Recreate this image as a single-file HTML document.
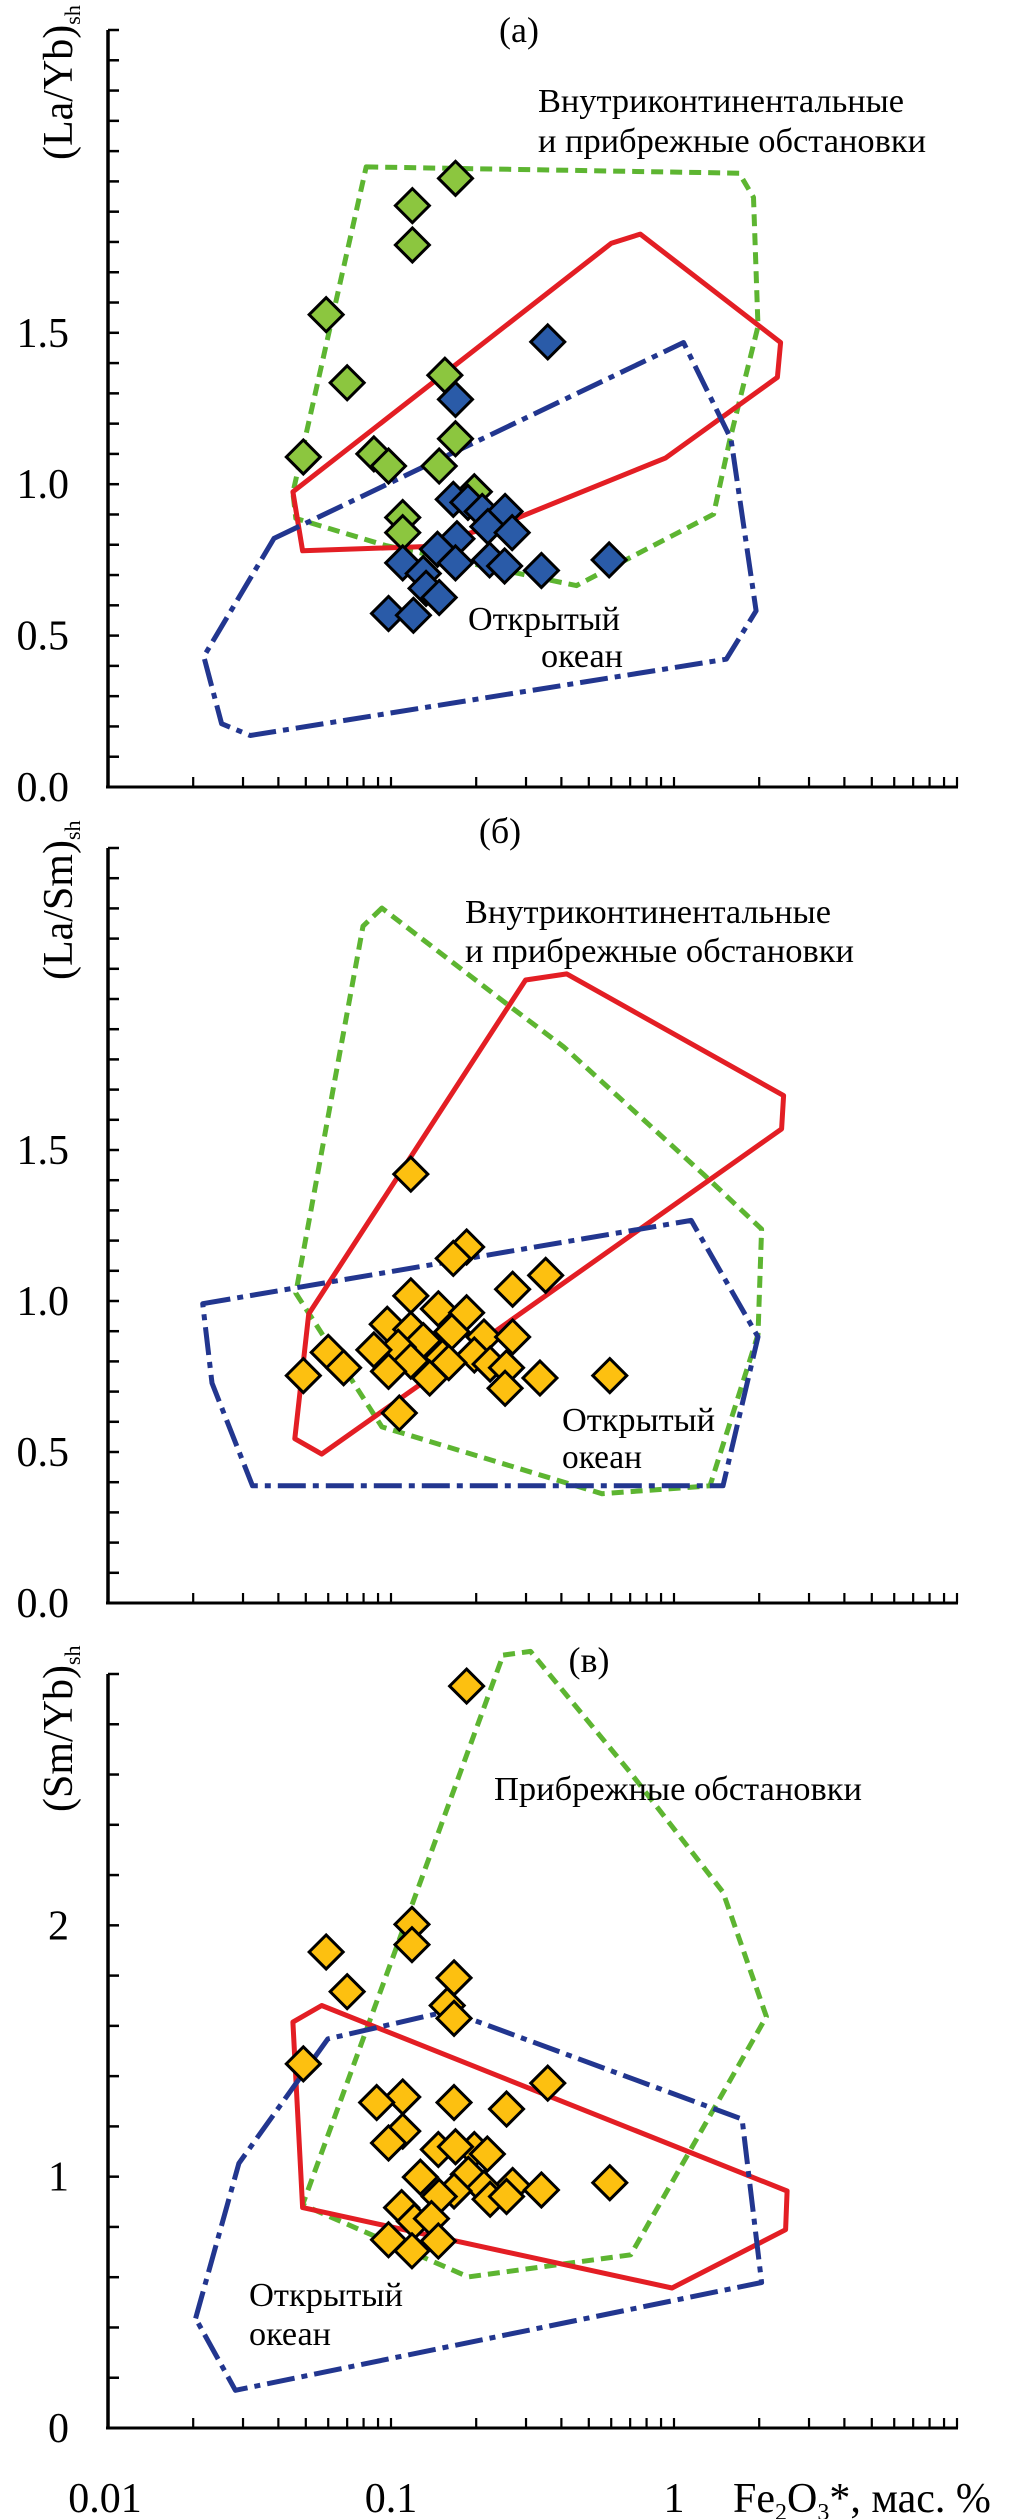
<!DOCTYPE html>
<html><head><meta charset="utf-8"><style>
html,body{margin:0;padding:0;background:#fff;}
svg{display:block;font-family:"Liberation Serif","Times New Roman","DejaVu Serif",serif;}
svg text{font-family:"Liberation Serif","Times New Roman","DejaVu Serif",serif;}
</style></head><body>
<svg id="chart" width="1010" height="2519" viewBox="0 0 1010 2519" xmlns="http://www.w3.org/2000/svg" font-family="Liberation Serif, DejaVu Serif, serif">
<g id="grid"></g>
</svg>
<script>
// ---- data ----
const xTickLabels = ["0.01","0.1","1"];
// Panel (a) La/Yb
const aGreenX=[0.169,0.119,0.119,0.059,0.070,0.155,0.169,0.049,0.087,0.098,0.148,0.197,0.110,0.110];
const aGreenY=[2.01,1.92,1.79,1.56,1.335,1.36,1.15,1.09,1.10,1.06,1.06,0.975,0.89,0.84];
const aBlueX=[0.358,0.169,0.166,0.187,0.21,0.253,0.22,0.268,0.171,0.146,0.11,0.169,0.223,0.252,0.34,0.59,0.13,0.133,0.148,0.098,0.12];
const aBlueY=[1.47,1.28,0.95,0.94,0.91,0.91,0.86,0.84,0.82,0.785,0.74,0.74,0.75,0.73,0.715,0.75,0.705,0.656,0.626,0.573,0.567];
const aPolyGreenX=[0.0817,1.70,1.91,1.98,1.57,1.38,0.452,0.0955,0.0461,0.045];
const aPolyGreenY=[2.048,2.027,1.947,1.521,1.140,0.901,0.665,0.798,0.887,0.972];
const aPolyRedX=[0.045,0.601,0.760,2.38,2.32,0.935,0.256,0.130,0.0487];
const aPolyRedY=[0.975,1.796,1.826,1.468,1.353,1.087,0.874,0.794,0.780];
const aPolyBlueX=[0.0386,1.08,1.59,1.95,1.53,0.0318,0.0252,0.0218];
const aPolyBlueY=[0.821,1.468,1.149,0.582,0.422,0.170,0.209,0.431];
// Panel (b) La/Sm
const bX=[0.1175,0.185,0.166,0.352,0.269,0.1175,0.147,0.185,0.097,0.1175,0.164,0.130,0.213,0.269,0.106,0.087,0.060,0.152,0.197,0.1175,0.160,0.224,0.068,0.098,0.256,0.049,0.137,0.336,0.593,0.253,0.107];
const bY=[1.42,1.179,1.141,1.085,1.039,1.017,0.974,0.961,0.923,0.906,0.898,0.869,0.881,0.881,0.847,0.838,0.830,0.813,0.821,0.801,0.796,0.791,0.779,0.767,0.779,0.753,0.745,0.745,0.753,0.711,0.629];
const bPolyGreenX=[0.0929,0.0796,0.0461,0.0929,0.556,1.34,1.98,2.04,1.28,0.407,0.269];
const bPolyGreenY=[2.301,2.241,1.026,0.583,0.362,0.388,0.889,1.238,1.417,1.842,1.969];
const bPolyRedX=[0.299,0.418,2.44,2.40,0.0569,0.0457,0.0512];
const bPolyRedY=[2.063,2.083,1.680,1.570,0.493,0.544,0.957];
const bPolyBlueX=[0.0216,1.15,1.98,1.49,0.0324,0.0233];
const bPolyBlueY=[0.991,1.267,0.881,0.388,0.388,0.728];
// Panel (c) Sm/Yb
const cX=[0.185,0.1186,0.1186,0.059,0.167,0.070,0.158,0.167,0.049,0.358,0.110,0.089,0.167,0.256,0.110,0.098,0.147,0.197,0.219,0.169,0.127,0.1876,0.269,0.213,0.167,0.340,0.593,0.148,0.224,0.256,0.109,0.121,0.139,0.098,0.147,0.1186];
const cY=[2.952,2.004,1.923,1.894,1.791,1.736,1.681,1.630,1.449,1.372,1.317,1.295,1.295,1.269,1.181,1.134,1.108,1.108,1.090,1.119,0.998,1.009,0.965,0.954,0.943,0.947,0.976,0.921,0.910,0.921,0.877,0.822,0.833,0.749,0.744,0.705];
const cPolyGreenX=[0.249,0.311,0.703,1.49,2.12,0.703,0.1876,0.0487];
const cPolyGreenY=[3.075,3.09,2.606,2.132,1.637,0.689,0.601,0.888];
const cPolyRedX=[0.045,0.0569,2.51,2.48,0.984,0.0487];
const cPolyRedY=[1.615,1.681,0.943,0.789,0.557,0.877];
const cPolyBlueX=[0.0204,0.029,0.0598,0.160,1.74,2.04,0.0282];
const cPolyBlueY=[0.436,1.053,1.548,1.659,1.229,0.579,0.150];
const aYLabels=["0.0","0.5","1.0","1.5"];
const cYLabels=["0","1","2"];

// ---- drawing ----
const NS="http://www.w3.org/2000/svg";
const FONT='"Liberation Serif", "Times New Roman", "DejaVu Serif", serif';
const svg=document.getElementById('chart');
function mk(tag,attrs,parent){const e=document.createElementNS(NS,tag);for(const k in attrs)e.setAttribute(k,attrs[k]);(parent||svg).appendChild(e);return e;}
const X0=108, DEC=283;
function xs(v){return X0+(Math.log10(v)+2)*DEC;}
function makeY(bottom,top,ymax){return v=>bottom-(v/ymax)*(bottom-top);}
const GREEN_LINE="#5DB531", RED="#E31E24", BLUE_LINE="#22368F";

function panel(id,bottom,top,ymax,minor,major,labels){
  const ys=makeY(bottom,top,ymax);
  const g=mk('g',{});
  
  
  const ya=mk('line',{x1:X0,y1:top,x2:X0,y2:bottom,stroke:'#000','stroke-width':3.5},g);
  
  
  const xa=mk('line',{x1:X0-2,y1:bottom,x2:xs(10)+1,y2:bottom,stroke:'#000','stroke-width':3},g);
  
  
  const n=Math.round(ymax/minor);
  for(let i=1;i<=n;i++){
    const t=mk('line',{x1:X0,y1:ys(i*minor),x2:X0+11,y2:ys(i*minor),stroke:'#000','stroke-width':2.5},g);
    
    
  }
  labels.forEach((s,i)=>{
    const t=mk('text',{x:69,y:ys(i*major)+14,'font-size':42,'text-anchor':'end','font-family':FONT},g);
    t.textContent=s;
    
    
  });
  for(let d=0.01;d<10;d*=10){
    for(let m=2;m<=10;m++){
      const xv=xs(d*m);
      const t=mk('line',{x1:xv,y1:bottom,x2:xv,y2:bottom-10,stroke:'#000','stroke-width':2.2},g);
      
      
    }
  }
  return {g,ys};
}
function poly(p,xsArr,ysArr,color,dash,name){
  const pts=xsArr.map((v,i)=>xs(v).toFixed(1)+','+p.ys(ysArr[i]).toFixed(1)).join(' ');
  const e=mk('polygon',{points:pts,fill:'none',stroke:color,'stroke-width':5,'stroke-dasharray':dash,'stroke-linejoin':'round'},p.g);
  
  
}
function pts(p,xArr,yArr,fill,name){
  xArr.forEach((v,i)=>{
    const cx=xs(v), cy=p.ys(yArr[i]), r=17;
    const e=mk('polygon',{points:`${cx},${cy-r} ${cx+r},${cy} ${cx},${cy+r} ${cx-r},${cy}`,fill:fill,stroke:'#000','stroke-width':3,'stroke-linejoin':'miter'},p.g);
    
    
  });
}
function txt(x,y,s,size,len,name,anchor){
  const a={x:x,y:y,'font-size':size,'font-family':FONT};
  if(len){a.textLength=len;a.lengthAdjust='spacingAndGlyphs';}
  if(anchor)a['text-anchor']=anchor;
  const t=mk('text',a);
  t.textContent=s;
  
  
  return t;
}
function ytitle(cy,main,name){
  const t=mk('text',{transform:`translate(72,${cy}) rotate(-90)`,'font-size':42,'font-family':FONT});
  
  
  const a=mk('tspan',{},t);a.textContent=main;
  const b=mk('tspan',{'font-size':22,dy:8},t);b.textContent='sh';
}

// Panel a
const pa=panel('a',787,30,2.5,0.1,0.5,aYLabels);
poly(pa,aPolyGreenX,aPolyGreenY,GREEN_LINE,'12 7','green-field-a');
poly(pa,aPolyRedX,aPolyRedY,RED,'none','red-field-a');
poly(pa,aPolyBlueX,aPolyBlueY,BLUE_LINE,'28 7 6 7','blue-field-a');
pts(pa,aGreenX,aGreenY,'#8CC63F','green-point-a');
pts(pa,aBlueX,aBlueY,'#2A5BA8','blue-point-a');
// Panel b
const pb=panel('b',1603,848,2.5,0.1,0.5,aYLabels);
poly(pb,bPolyGreenX,bPolyGreenY,GREEN_LINE,'12 7','green-field-b');
poly(pb,bPolyRedX,bPolyRedY,RED,'none','red-field-b');
poly(pb,bPolyBlueX,bPolyBlueY,BLUE_LINE,'28 7 6 7','blue-field-b');
pts(pb,bX,bY,'#FDC010','yellow-point-b');
// Panel c
const pc=panel('c',2428,1674,3,0.2,1,cYLabels);
poly(pc,cPolyGreenX,cPolyGreenY,GREEN_LINE,'12 7','green-field-c');
poly(pc,cPolyRedX,cPolyRedY,RED,'none','red-field-c');
poly(pc,cPolyBlueX,cPolyBlueY,BLUE_LINE,'28 7 6 7','blue-field-c');
pts(pc,cX,cY,'#FDC010','yellow-point-c');

// Text
ytitle(160,'(La/Yb)','y-axis-title-a');
ytitle(980,'(La/Sm)','y-axis-title-b');
ytitle(1812,'(Sm/Yb)','y-axis-title-c');
txt(519,42,'(a)',36,null,'panel-label-a','middle');
txt(500,843,'(б)',36,null,'panel-label-b','middle');
txt(589,1672,'(в)',36,null,'panel-label-c','middle');
txt(538,112,'Внутриконтинентальные',34,366,'field-label-continental-a');
txt(538,152,'и прибрежные обстановки',34,388,'field-label-coastal-a');
txt(468,630,'Открытый',34,152,'field-label-ocean-a');
txt(541,667,'океан',34,82,'field-label-ocean2-a');
txt(465,923,'Внутриконтинентальные',34,366,'field-label-continental-b');
txt(465,962,'и прибрежные обстановки',34,389,'field-label-coastal-b');
txt(562,1431,'Открытый',34,153,'field-label-ocean-b');
txt(562,1468,'океан',34,80,'field-label-ocean2-b');
txt(494,1800,'Прибрежные обстановки',34,368,'field-label-coastal-c');
txt(249,2306,'Открытый',34,154,'field-label-ocean-c');
txt(249,2345,'океан',34,82,'field-label-ocean2-c');
[0.01,0.1,1].forEach((v,i)=>{
  txt(xs(v)-(i===0?3:0),2512,xTickLabels[i],42,null,'x-tick-label','middle');
});
const xt=mk('text',{x:733,y:2512,'font-size':42,'font-family':FONT});


const p1=mk('tspan',{},xt);p1.textContent='Fe';
const p2=mk('tspan',{'font-size':24,dy:8},xt);p2.textContent='2';
const p3=mk('tspan',{dy:-8},xt);p3.textContent='O';
const p4=mk('tspan',{'font-size':24,dy:8},xt);p4.textContent='3';
const p5=mk('tspan',{dy:-8},xt);p5.textContent='*, мас. %';
</script>
</body></html>
